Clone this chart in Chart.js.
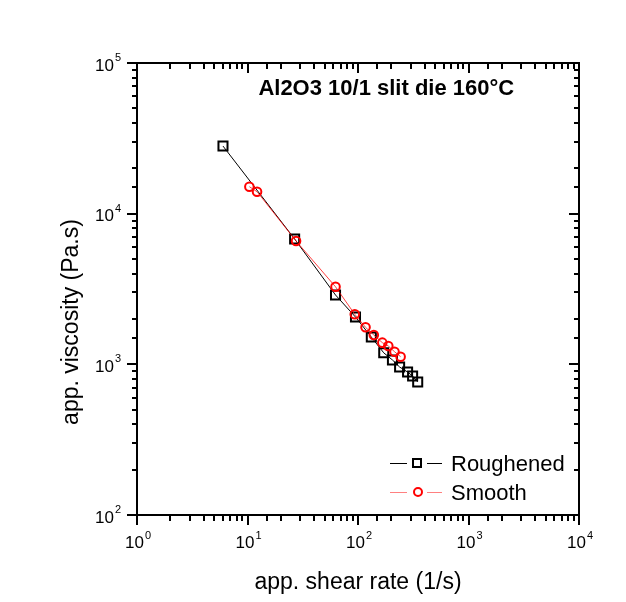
<!DOCTYPE html>
<html><head><meta charset="utf-8">
<script src="https://cdn.jsdelivr.net/npm/chart.js@4/dist/chart.umd.min.js"></script>
<style>html,body{margin:0;padding:0;background:#fff}#wrap{width:626px;height:602px}</style>
</head><body><div id="wrap"><canvas id="c" width="626" height="602"></canvas></div>
<script>
// ---- data ----
const roughShear = [6.0, 26.7, 62.6, 94.9, 132, 171, 205, 238, 281, 312, 347];
const roughVisc  = [28100, 6790, 2885, 2060, 1518, 1192, 1069, 960, 889, 836, 764];
const smoothShear = [10.4, 12.2, 27.5, 62.6, 93.5, 117, 139, 166, 188, 214, 243];
const smoothVisc  = [15100, 13990, 6590, 3270, 2148, 1761, 1566, 1393, 1324, 1213, 1124];
const seriesNames = ['Roughened', 'Smooth'];
const xRange = [1, 10000];
const yRange = [100, 100000];
const xTickExponents = [0, 1, 2, 3, 4];
const yTickExponents = [2, 3, 4, 5];
const chartTitle = 'Al2O3 10/1 slit die 160°C';
const xTitle = 'app. shear rate (1/s)';
const yTitle = 'app. viscosity (Pa.s)';

const FONT = '"Liberation Sans", Arial, sans-serif';
function isPow10(v){ const l=Math.log10(v); return Math.abs(l-Math.round(l))<1e-9; }

// draws "10" with a raised exponent; align: 'center' or 'right'
function drawPow(ctx, exp, x, y, align) {
  ctx.font = '17px ' + FONT;
  const wb = ctx.measureText('10').width;
  ctx.font = '11px ' + FONT;
  const we = ctx.measureText(String(exp)).width;
  const total = wb + 1 + we;
  const left = align === 'right' ? x - total : x - total / 2;
  ctx.textAlign = 'left'; ctx.textBaseline = 'alphabetic';
  ctx.font = '17px ' + FONT;
  ctx.fillText('10', left, y);
  ctx.font = '11px ' + FONT;
  ctx.fillText(String(exp), left + wb + 1, y - 9.5);
}

const decorPlugin = {
  id: 'decor',
  afterDraw(chart) {
    const ctx = chart.ctx, a = chart.chartArea;
    const xs = chart.scales.x, ys = chart.scales.y;
    ctx.save();
    ctx.strokeStyle = '#000'; ctx.lineWidth = 2; ctx.lineCap = 'butt';
    // frame
    ctx.strokeRect(a.left, a.top, a.right - a.left, a.bottom - a.top);
    // x ticks (bottom outward, top inward)
    xs.ticks.forEach(t => {
      const px = Math.round(xs.getPixelForValue(t.value));
      const L = isPow10(t.value) ? 10 : 6;
      ctx.beginPath();
      ctx.moveTo(px, a.bottom); ctx.lineTo(px, a.bottom + L);
      ctx.moveTo(px, a.top); ctx.lineTo(px, a.top + L);
      ctx.stroke();
    });
    ys.ticks.forEach(t => {
      const py = Math.round(ys.getPixelForValue(t.value));
      const L = isPow10(t.value) ? 10 : 5;
      ctx.beginPath();
      ctx.moveTo(a.left, py); ctx.lineTo(a.left - L, py);
      ctx.moveTo(a.right, py); ctx.lineTo(a.right - L, py);
      ctx.stroke();
    });
    // tick labels
    ctx.fillStyle = '#000';
    xTickExponents.forEach(e => {
      const px = xs.getPixelForValue(Math.pow(10, e));
      drawPow(ctx, e, px + 1, a.bottom + 33, 'center');
    });
    yTickExponents.forEach(e => {
      const py = ys.getPixelForValue(Math.pow(10, e));
      drawPow(ctx, e, a.left - 16, py + 7.5, 'right');
    });
    // title
    ctx.font = 'bold 22px ' + FONT;
    ctx.textAlign = 'center'; ctx.textBaseline = 'middle';
    ctx.fillText(chartTitle, a.left + 0.564 * (a.right - a.left), a.top + 26);
    // axis titles
    ctx.font = '23px ' + FONT;
    ctx.fillText(xTitle, (a.left + a.right) / 2, a.bottom + 68);
    ctx.save();
    ctx.translate(72, (a.top + a.bottom) / 2 + 33);
    ctx.rotate(-Math.PI / 2);
    ctx.fillText(yTitle, 0, 0);
    ctx.restore();
    // legend
    const lx = a.right - 189;
    const rows = [
      {y: a.top + 400, color: '#000', line: '#000', style: 'rect'},
      {y: a.top + 429, color: '#ff0000', line: '#ff8080', style: 'circle'}
    ];
    rows.forEach((r, i) => {
      ctx.strokeStyle = r.line; ctx.lineWidth = 1;
      ctx.beginPath();
      ctx.moveTo(lx, r.y + 0.5); ctx.lineTo(lx + 17, r.y + 0.5);
      ctx.moveTo(lx + 37, r.y + 0.5); ctx.lineTo(lx + 52, r.y + 0.5);
      ctx.stroke();
      ctx.strokeStyle = r.color; ctx.lineWidth = 2;
      if (r.style === 'rect') {
        ctx.strokeRect(lx + 23, r.y - 4, 8, 8);
      } else {
        ctx.beginPath(); ctx.arc(lx + 28, r.y, 4, 0, Math.PI * 2); ctx.stroke();
      }
      ctx.fillStyle = '#000';
      ctx.font = '22px ' + FONT;
      ctx.textAlign = 'left'; ctx.textBaseline = 'middle';
      ctx.fillText(seriesNames[i], lx + 61, r.y + 1.5);
    });
    ctx.restore();
  }
};

new Chart(document.getElementById('c'), {
  type: 'line',
  data: {
    datasets: [
      {
        label: seriesNames[0],
        data: roughShear.map((x, i) => ({x, y: roughVisc[i]})),
        borderColor: '#000', borderWidth: 1,
        pointStyle: 'rect', pointRadius: 6.4, pointBorderWidth: 2,
        pointBorderColor: '#000', pointBackgroundColor: 'rgba(0,0,0,0)',
        order: 1
      },
      {
        label: seriesNames[1],
        data: smoothShear.map((x, i) => ({x, y: smoothVisc[i]})),
        borderColor: 'rgba(255,0,0,0.75)', borderWidth: 1,
        pointStyle: 'circle', pointRadius: 4.3, pointBorderWidth: 2,
        pointBorderColor: '#ff0000', pointBackgroundColor: 'rgba(0,0,0,0)',
        order: 0
      }
    ]
  },
  options: {
    responsive: false, animation: false, devicePixelRatio: 1,
    layout: { padding: { top: 63, right: 47, left: 0, bottom: 0 } },
    plugins: { legend: { display: false }, tooltip: { enabled: false }, title: { display: false } },
    scales: {
      x: {
        type: 'logarithmic', min: xRange[0], max: xRange[1], position: 'bottom',
        grid: { display: false, drawTicks: false }, border: { display: false },
        ticks: { display: false, autoSkip: false },
        afterFit: (s) => { s.height = 87; }
      },
      y: {
        type: 'logarithmic', min: yRange[0], max: yRange[1], position: 'left',
        grid: { display: false, drawTicks: false }, border: { display: false },
        ticks: { display: false, autoSkip: false },
        afterFit: (s) => { s.width = 137; }
      }
    }
  },
  plugins: [decorPlugin]
});
</script></body></html>
